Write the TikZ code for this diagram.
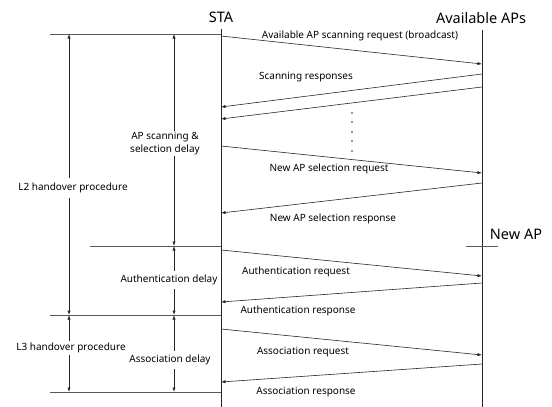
\documentclass[tikz,border=0pt]{standalone}
\usepackage{fontspec}
\setmainfont{Noto Sans}
\usetikzlibrary{arrows.meta}
\begin{document}
\begin{tikzpicture}[x=1pt,y=-1pt,
  tip/.tip={Latex[length=4.5pt,width=3.2pt]},
  msg/.style={draw=black!85, line width=0.6pt, -tip},
  lbl/.style={font=\fontsize{10}{13}\selectfont, inner sep=1pt},
  dlbl/.style={lbl, fill=white, align=center, inner xsep=1pt, inner ysep=5pt},
  dimarr/.style={draw=black!85, line width=0.6pt, tip-tip},
  hline/.style={draw=black!65, line width=0.7pt},
  life/.style={draw=black!85, line width=0.6pt},
  head/.style={font=\fontsize{14.5}{16}\selectfont, inner sep=0pt}]
\useasboundingbox (0,0) rectangle (552,407);
% headers
\node[head] (sta) at (221,17) {STA};
\node[head] (aps) at (481,18) {Available APs};
\node[head] (newap) at (516,234) {New AP};
% lifelines
\coordinate (staT) at (221,29); \coordinate (staB) at (221,407);
\coordinate (apT) at (482,30); \coordinate (apB) at (482,407);
\draw[life] (staT) -- (staB);
\draw[life] (apT) -- (apB);
% horizontal marks
\coordinate (h1a) at (50,34);  \coordinate (h1b) at (221,34);
\coordinate (h2a) at (90,246); \coordinate (h2b) at (221,246);
\coordinate (h3a) at (50,315); \coordinate (h3b) at (221,315);
\coordinate (h4a) at (50,392); \coordinate (h4b) at (221,392);
\coordinate (n1a) at (466,246); \coordinate (n1b) at (498,246);
\draw[hline] (h1a) -- (h1b);
\draw[hline] (h2a) -- (h2b);
\draw[hline] (h3a) -- (h3b);
\draw[hline] (h4a) -- (h4b);
\draw[hline] (n1a) -- (n1b);
% dimension arrows
\coordinate (o1) at (69,34);  \coordinate (o2) at (69,315); \coordinate (o3) at (69,392);
\coordinate (i1) at (174,34); \coordinate (i2) at (174,246); \coordinate (i3) at (174,315); \coordinate (i4) at (174,392);
\draw[dimarr] (o1) -- (o2);
\draw[dimarr] (o2) -- (o3);
\draw[dimarr] (i1) -- (i2);
\draw[dimarr] (i2) -- (i3);
\draw[dimarr] (i3) -- (i4);
\node[dlbl, inner ysep=5pt] (l2) at (73,188) {L2 handover procedure};
\node[dlbl, inner ysep=2pt] (l3) at (71,348) {L3 handover procedure};
\node[dlbl, inner ysep=1.5pt] (apsd) at (165,143.5) {AP scanning \&\\selection delay};
\node[dlbl, inner ysep=4pt] (authd) at (169,280) {Authentication delay};
\node[dlbl, inner ysep=4pt] (assd) at (170,360) {Association delay};
% messages
\coordinate (s1) at (221,36);  \coordinate (a1) at (482,64);
\coordinate (a2) at (482,74);  \coordinate (s2) at (221,107);
\coordinate (a3) at (482,87);  \coordinate (s3) at (221,119);
\coordinate (s4) at (221,146); \coordinate (a4) at (482,173);
\coordinate (a5) at (482,183); \coordinate (s5) at (221,213);
\coordinate (s6) at (221,250); \coordinate (a6) at (482,276);
\coordinate (a7) at (482,283); \coordinate (s7) at (221,302);
\coordinate (s8) at (221,329); \coordinate (a8) at (482,355);
\coordinate (a9) at (482,364); \coordinate (s9) at (221,382);
\draw[msg] (s1) -- (a1);
\draw[msg] (a2) -- (s2);
\draw[msg] (a3) -- (s3);
\draw[msg] (s4) -- (a4);
\draw[msg] (a5) -- (s5);
\draw[msg] (s6) -- (a6);
\draw[msg] (a7) -- (s7);
\draw[msg] (s8) -- (a8);
\draw[msg] (a9) -- (s9);
\node[lbl] (m1) at (360,36) {Available AP scanning request (broadcast)};
\node[lbl] (m2) at (306,77) {Scanning responses};
\node[lbl] (m4) at (329,169) {New AP selection request};
\node[lbl] (m5) at (333,219) {New AP selection response};
\node[lbl] (m6) at (296,272) {Authentication request};
\node[lbl] (m7) at (298,311) {Authentication response};
\node[lbl] (m8) at (303,352) {Association request};
\node[lbl] (m9) at (306,392) {Association response};
% dots
\foreach \yy in {113,122,132,141,151}
  \fill[black!80] (352,\yy) circle (0.8);
\end{tikzpicture}
\end{document}
